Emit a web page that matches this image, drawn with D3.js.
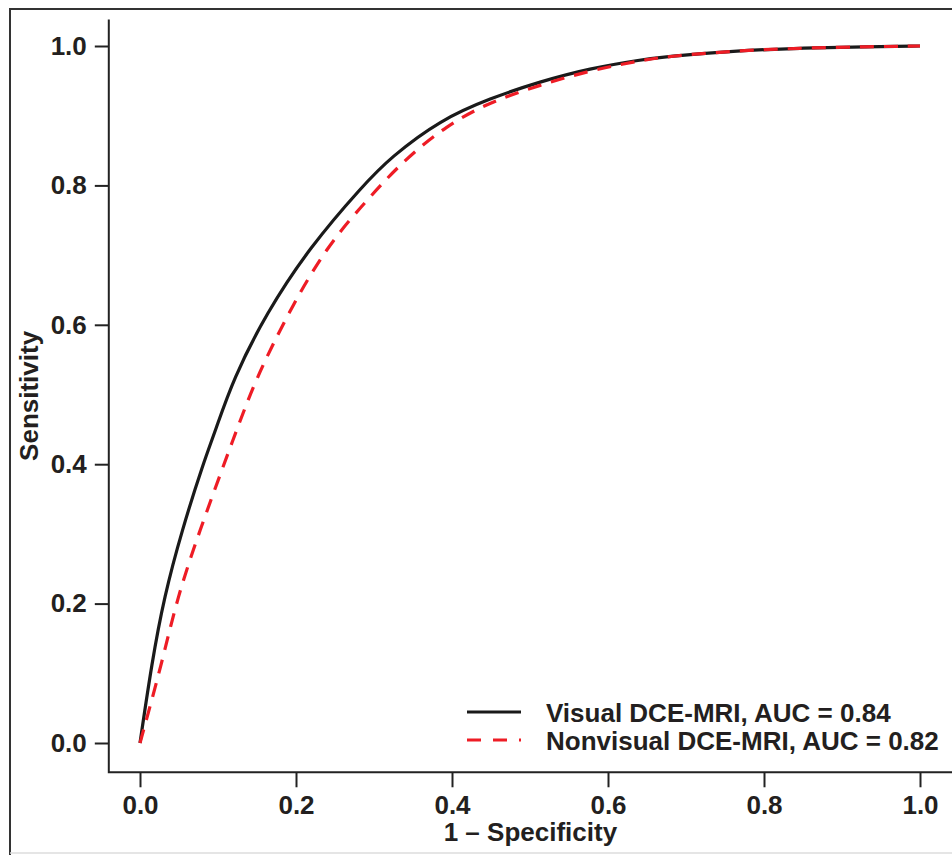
<!DOCTYPE html>
<html>
<head>
<meta charset="utf-8">
<script src="https://cdn.jsdelivr.net/npm/d3@7"></script>
<style>
  body { margin: 0; background: #fff; }
  svg { display: block; font-family: "Liberation Sans", Arial, sans-serif; }
</style>
</head>
<body>
<svg id="roc" width="952" height="855"></svg>
<script>
// values
const fprVisual = [0, 0.015, 0.031, 0.054, 0.081, 0.097, 0.119, 0.162, 0.218, 0.286, 0.321, 0.385, 0.449, 0.513, 0.577, 0.641, 0.675, 0.761, 0.846, 0.932, 1.0];
const tprVisual = [0, 0.114, 0.210, 0.306, 0.401, 0.449, 0.521, 0.617, 0.712, 0.800, 0.840, 0.894, 0.925, 0.949, 0.968, 0.980, 0.985, 0.993, 0.997, 0.999, 1.0];

const fprNonvisual = [0, 0.028, 0.048, 0.077, 0.108, 0.124, 0.148, 0.190, 0.239, 0.291, 0.338, 0.393, 0.449, 0.513, 0.577, 0.641, 0.675, 0.761, 0.846, 0.932, 1.0];
const tprNonvisual = [0, 0.114, 0.210, 0.306, 0.401, 0.449, 0.521, 0.617, 0.712, 0.779, 0.836, 0.886, 0.920, 0.944, 0.965, 0.979, 0.985, 0.993, 0.997, 0.999, 1.0];

const xTicks = [0, 0.2, 0.4, 0.6, 0.8, 1.0];
const yTicks = [0, 0.2, 0.4, 0.6, 0.8, 1.0];

const seriesNames = ["Visual DCE-MRI, AUC = 0.84", "Nonvisual DCE-MRI, AUC = 0.82"];

const svg = d3.select("#roc");
const TEXT_COLOR = "#231f20";
const BLACK_LINE = "#1a1a1a";
const RED_LINE = "#ee1c25";

// outer frame
svg.append("line").attr("x1", 9).attr("y1", 9).attr("x2", 952).attr("y2", 9)
  .attr("stroke", "#333").attr("stroke-width", 2);
svg.append("line").attr("x1", 10).attr("y1", 8).attr("x2", 10).attr("y2", 855)
  .attr("stroke", "#333").attr("stroke-width", 2);
svg.append("line").attr("x1", 10).attr("y1", 853).attr("x2", 952).attr("y2", 853)
  .attr("stroke", "#ddd").attr("stroke-width", 1.5);

const xScale = d3.scaleLinear().domain([0, 1]).range([140, 920]);
const yScale = d3.scaleLinear().domain([0, 1]).range([743, 46]);

// L-shaped box
const boxLeft = xScale(-0.04), boxBottom = yScale(-0.042);
svg.append("path")
  .attr("d", `M${boxLeft},${yScale(1.038)} V${boxBottom} H952`)
  .attr("fill", "none")
  .attr("stroke", "#222")
  .attr("stroke-width", 2);

const fmt = d3.format(".1f");

const yAxis = d3.axisLeft(yScale).tickValues(yTicks).tickFormat(fmt)
  .tickSize(14).tickPadding(8);
svg.append("g")
  .attr("transform", `translate(${boxLeft}, 0)`)
  .call(yAxis)
  .call((g) => g.select(".domain").remove())
  .call((g) => g.selectAll(".tick line").attr("stroke", "#222").attr("stroke-width", 2))
  .call((g) => g.selectAll(".tick text")
    .attr("fill", TEXT_COLOR)
    .attr("font-size", 26)
    .attr("font-weight", "bold")
    .attr("font-family", "'Liberation Sans', Arial, sans-serif"));

const xAxis = d3.axisBottom(xScale).tickValues(xTicks).tickFormat(fmt)
  .tickSize(15).tickPadding(8);
svg.append("g")
  .attr("transform", `translate(0, ${boxBottom})`)
  .call(xAxis)
  .call((g) => g.select(".domain").remove())
  .call((g) => g.selectAll(".tick line").attr("stroke", "#222").attr("stroke-width", 2))
  .call((g) => g.selectAll(".tick text")
    .attr("fill", TEXT_COLOR)
    .attr("font-size", 26)
    .attr("font-weight", "bold")
    .attr("font-family", "'Liberation Sans', Arial, sans-serif"));

// axis titles
svg.append("text")
  .attr("x", (xScale(-0.04) + 952) / 2)
  .attr("y", 841)
  .attr("text-anchor", "middle")
  .attr("font-size", 26)
  .attr("font-weight", "bold")
  .attr("fill", TEXT_COLOR)
  .text("1 \u2013 Specificity");

svg.append("text")
  .attr("transform", `translate(38, ${(yScale(1.038) + boxBottom) / 2}) rotate(-90)`)
  .attr("text-anchor", "middle")
  .attr("font-size", 26)
  .attr("font-weight", "bold")
  .attr("fill", TEXT_COLOR)
  .text("Sensitivity");

// curves
const rocLine = d3.line()
  .curve(d3.curveBasis)
  .x((d) => xScale(d[0]))
  .y((d) => yScale(d[1]));

const nonvisualData = fprNonvisual.map((f, i) => [f, tprNonvisual[i]]);
const visualData = fprVisual.map((f, i) => [f, tprVisual[i]]);

svg.append("path")
  .datum(visualData)
  .attr("d", rocLine)
  .attr("fill", "none")
  .attr("stroke", BLACK_LINE)
  .attr("stroke-width", 3.2);

svg.append("path")
  .datum(nonvisualData)
  .attr("d", rocLine)
  .attr("fill", "none")
  .attr("stroke", RED_LINE)
  .attr("stroke-width", 3.2)
  .attr("stroke-dasharray", "14,10");

// legend
const legend = svg.append("g");
const legendRows = [
  { name: seriesNames[0], color: BLACK_LINE, dash: null, y: 712 },
  { name: seriesNames[1], color: RED_LINE, dash: "14,12", y: 740 },
];
const rows = legend.selectAll("g").data(legendRows).enter().append("g");
rows.append("line")
  .attr("x1", 467).attr("x2", 521)
  .attr("y1", (d) => d.y).attr("y2", (d) => d.y)
  .attr("stroke", (d) => d.color)
  .attr("stroke-width", 3.2)
  .attr("stroke-dasharray", (d) => d.dash);
rows.append("text")
  .attr("x", 546)
  .attr("y", (d) => d.y + 10)
  .attr("font-size", 26)
  .attr("font-weight", "bold")
  .attr("fill", TEXT_COLOR)
  .text((d) => d.name);
</script>
</body>
</html>
